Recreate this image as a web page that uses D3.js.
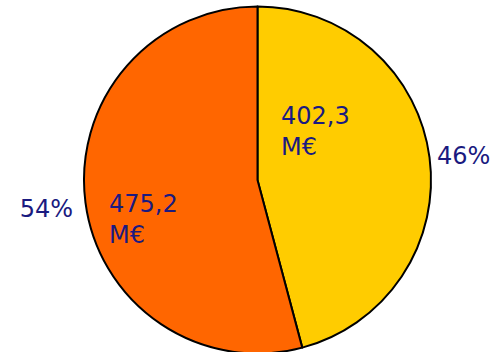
<!DOCTYPE html>
<html>
<head>
<meta charset="utf-8">
<script src="https://cdn.jsdelivr.net/npm/d3@7/dist/d3.min.js"></script>
<style>
  html, body { margin: 0; padding: 0; background: #fff; }
  svg { display: block; }
  text { font-family: "DejaVu Sans", sans-serif; fill: #1a1a80; }
</style>
</head>
<body>
<svg id="chart" width="493" height="352"></svg>
<script>
// Budget split, in millions of euros
const categories = ["A", "B"];
const values = [402.3, 475.2];
const valueLabels = ["402,3", "475,2"];
const unitLabel = "M€";
const colors = ["#FFCC00", "#FF6600"];

const width = 493, height = 352;
const cx = 257.5, cy = 180, radius = 173.5;

const svg = d3.select("#chart");
const g = svg.append("g").attr("transform", `translate(${cx},${cy})`);

const pie = d3.pie().sort(null).value(d => d)(values);
const arc = d3.arc().innerRadius(0).outerRadius(radius);
const total = d3.sum(values);

g.selectAll("path.slice")
  .data(pie)
  .join("path")
  .attr("class", "slice")
  .attr("d", arc)
  .attr("fill", (d, i) => colors[i])
  .attr("stroke", "#000")
  .attr("stroke-width", 2)
  .attr("stroke-linejoin", "round");

// Value labels inside each slice (two lines), offsets from the centre
const inner = [{ x: 23.5, y: -56 }, { x: -148.5, y: 32 }];
pie.forEach((d, i) => {
  const t = g.append("text")
    .attr("x", inner[i].x)
    .attr("y", inner[i].y)
    .style("font-size", "24px");
  t.append("tspan").attr("x", inner[i].x).text(valueLabels[i]);
  t.append("tspan").attr("x", inner[i].x).attr("dy", 31).text(unitLabel);
});

// Percentage labels outside the rim
const fmt = v => Math.round(v / total * 100) + "%";
const outer = [{ x: 179.5, y: -16, anchor: "start" }, { x: -184.5, y: 37, anchor: "end" }];
pie.forEach((d, i) => {
  g.append("text")
    .attr("x", outer[i].x)
    .attr("y", outer[i].y)
    .attr("text-anchor", outer[i].anchor)
    .style("font-size", "24px")
    .text(fmt(d.value));
});
</script>
</body>
</html>
